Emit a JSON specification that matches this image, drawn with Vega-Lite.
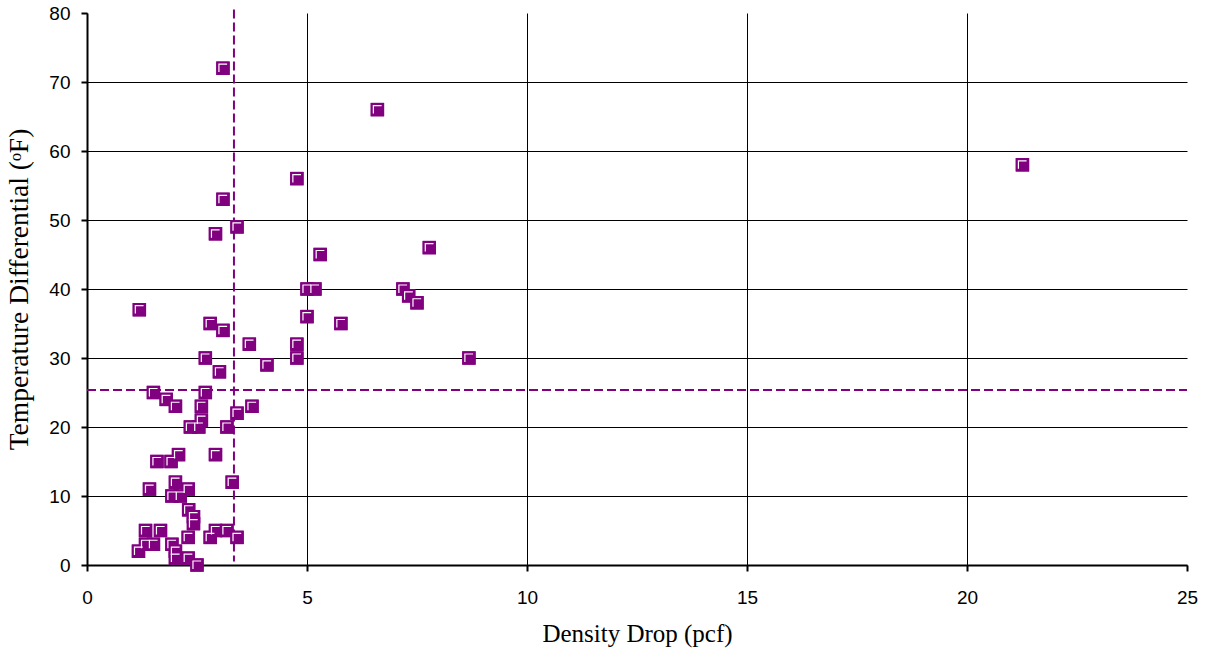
{
  "$schema": "https://vega.github.io/schema/vega-lite/v6.json",
  "width": 1100,
  "height": 552,
  "autosize": "none",
  "padding": {"left": 87, "top": 13, "right": 21, "bottom": 89},
  "background": "white",
  "config": {
    "view": {"stroke": null},
    "axis": {
      "domainColor": "black",
      "domainWidth": 2,
      "tickColor": "black",
      "tickWidth": 2,
      "tickSize": 6,
      "gridColor": "black",
      "gridWidth": 1,
      "labelFont": "Liberation Sans",
      "labelFontSize": 19,
      "labelColor": "black",
      "labelFlush": false,
      "titleFont": "Liberation Serif",
      "titleFontSize": 25,
      "titleFontWeight": "normal",
      "titleColor": "black"
    }
  },
  "datasets": {
    "pts": [
      {"d":3.09,"t":72},{"d":6.6,"t":66},{"d":21.26,"t":58},{"d":4.77,"t":56},{"d":3.09,"t":53},{"d":3.41,"t":49},{"d":2.92,"t":48},{"d":5.3,"t":45},{"d":7.78,"t":46},{"d":5.0,"t":40},{"d":5.18,"t":40},{"d":7.18,"t":40},{"d":7.31,"t":39},{"d":7.5,"t":38},{"d":5.0,"t":36},{"d":5.77,"t":35},{"d":8.68,"t":30},{"d":4.77,"t":32},{"d":4.77,"t":30},{"d":3.69,"t":32},{"d":4.09,"t":29},{"d":2.8,"t":35},{"d":3.09,"t":34},{"d":2.69,"t":30},{"d":3.01,"t":28},{"d":1.19,"t":37},
      {"d":1.51,"t":25},{"d":2.69,"t":25},{"d":1.8,"t":24},{"d":2.01,"t":23},{"d":2.6,"t":23},{"d":3.75,"t":23},{"d":3.41,"t":22},{"d":2.6,"t":21},{"d":2.35,"t":20},{"d":2.54,"t":20},{"d":3.18,"t":20},{"d":2.08,"t":16},{"d":2.92,"t":16},{"d":1.59,"t":15},{"d":1.91,"t":15},{"d":3.3,"t":12},{"d":2.01,"t":12},{"d":1.42,"t":11},{"d":2.3,"t":11},{"d":1.93,"t":10},{"d":2.12,"t":10},{"d":2.31,"t":8},{"d":2.42,"t":7},{"d":2.42,"t":6},{"d":1.33,"t":5},{"d":1.67,"t":5},{"d":2.92,"t":5},{"d":3.18,"t":5},{"d":2.3,"t":4},{"d":2.8,"t":4},{"d":3.41,"t":4},{"d":1.33,"t":3},{"d":1.51,"t":3},{"d":1.93,"t":3},{"d":1.17,"t":2},{"d":2.01,"t":2},{"d":2.01,"t":1},{"d":2.3,"t":1},{"d":2.5,"t":0}
    ],
    "vref": [{"d": 3.34, "tlo": 0.5, "thi": 80.5}],
    "href": [{"t": 25.35, "dlo": 0, "dhi": 25}]
  },
  "layer": [
    {
      "data": {"name": "pts"},
      "mark": {"type": "square", "color": "#800080", "size": 180, "opacity": 1},
      "encoding": {
        "x": {
          "field": "d", "type": "quantitative",
          "scale": {"domain": [0, 25], "nice": false, "zero": false},
          "axis": {
            "title": "Density Drop (pcf)",
            "values": [0, 5, 10, 15, 20, 25],
            "labelPadding": 17,
            "titlePadding": 14,
            "grid": true,
            "gridOpacity": {"condition": {"test": "datum.value === 25", "value": 0}, "value": 1}
          }
        },
        "y": {
          "field": "t", "type": "quantitative",
          "scale": {"domain": [0, 80], "nice": false, "zero": false},
          "axis": {
            "title": "Temperature Differential (ᵒF)",
            "titleFontSize": 27.5,
            "values": [0, 10, 20, 30, 40, 50, 60, 70, 80],
            "labelPadding": 11,
            "titlePadding": 15,
            "grid": true,
            "gridOpacity": {"condition": {"test": "datum.value === 80", "value": 0}, "value": 1}
          }
        }
      }
    },
    {
      "mark": {"type": "rule", "color": "#808080", "strokeWidth": 2},
      "encoding": {"y": {"datum": 80, "type": "quantitative"}}
    },
    {
      "mark": {"type": "rule", "color": "#808080", "strokeWidth": 2},
      "encoding": {"x": {"datum": 25, "type": "quantitative"}}
    },
    {
      "data": {"name": "vref"},
      "mark": {"type": "rule", "color": "#800080", "strokeWidth": 2, "strokeDash": [9, 4]},
      "encoding": {
        "x": {"field": "d", "type": "quantitative"},
        "y": {"field": "thi", "type": "quantitative"},
        "y2": {"field": "tlo"}
      }
    },
    {
      "data": {"name": "href"},
      "mark": {"type": "rule", "color": "#800080", "strokeWidth": 2, "strokeDash": [9, 4]},
      "encoding": {
        "y": {"field": "t", "type": "quantitative"},
        "x": {"field": "dlo", "type": "quantitative"},
        "x2": {"field": "dhi"}
      }
    },
    {
      "data": {"name": "pts"},
      "mark": {"type": "square", "color": "#800080", "size": 180, "opacity": 1},
      "encoding": {
        "x": {"field": "d", "type": "quantitative"},
        "y": {"field": "t", "type": "quantitative"}
      }
    },
    {
      "data": {"name": "pts"},
      "mark": {
        "type": "point",
        "shape": "M -0.6 0.58 L -0.6 -0.6 L 0.62 -0.6",
        "filled": false,
        "stroke": "white",
        "strokeWidth": 1.2,
        "size": 180,
        "opacity": 1
      },
      "encoding": {
        "x": {"field": "d", "type": "quantitative"},
        "y": {"field": "t", "type": "quantitative"}
      }
    }
  ]
}
